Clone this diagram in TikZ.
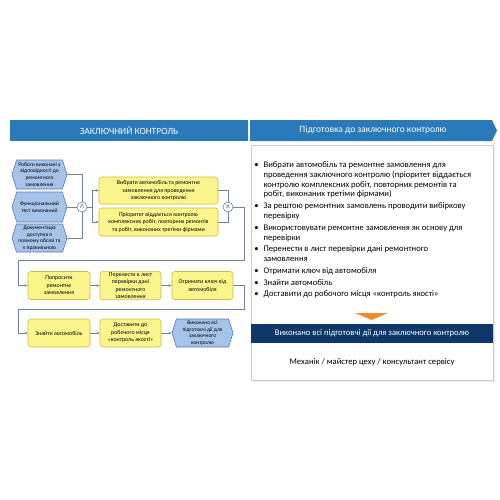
\documentclass[tikz,border=0pt]{standalone}
\usepackage{fontspec}
\setmainfont{Carlito}
\usetikzlibrary{shapes.symbols,arrows.meta}
\definecolor{hdrblue}{RGB}{42,122,186}
\definecolor{navy}{RGB}{14,56,104}
\definecolor{evfill}{RGB}{166,196,234}
\definecolor{evdraw}{RGB}{88,122,178}
\definecolor{fnfill}{RGB}{250,246,140}
\definecolor{fndraw}{RGB}{200,190,70}
\definecolor{lnclr}{RGB}{112,130,160}
\definecolor{orng}{RGB}{238,140,52}
\begin{document}
\begin{tikzpicture}[x=1pt,y=-1pt,
    line width=0.6pt,
    event node/.style={shape=signal,signal to=east and west,signal pointer angle=145,
      fill=evfill,draw=evdraw,inner sep=1pt,align=center,
      font=\fontsize{5.5}{6.8}\selectfont},
    func node/.style={rectangle,rounded corners=3pt,fill=fnfill,draw=fndraw,
      inner sep=1pt,align=center,font=\fontsize{5.9}{7.5}\selectfont},
    op node/.style={circle,draw=lnclr,fill=white,minimum size=10pt,inner sep=0pt,
      font=\fontsize{7}{7}\selectfont},
    hdr node/.style={inner sep=0pt,text=white,font=\fontsize{9.5}{11}\selectfont},
    flow/.style={draw=lnclr,-{Stealth[length=3pt,width=2.5pt]}},
    link/.style={draw=lnclr}
   ]
  \useasboundingbox (0,0) rectangle (500,500);
  \fill[white] (0,0) rectangle (500,500);

  % headers
  \node[hdr node,fill=hdrblue,minimum width=238pt,minimum height=21pt] (lhdr) at (129,130.5) {ЗАКЛЮЧНИЙ КОНТРОЛЬ};
  \fill[hdrblue] (250,120) -- (492,120) -- (497,130.5) -- (492,141) -- (250,141) -- cycle;
  \node[hdr node] (rhdr) at (373,130.5) {Підготовка до заключного контролю};

  % events
  \node[event node,minimum width=55pt,minimum height=29pt] (e1) at (39.5,174.5) {Роботи виконані у\\відповідності до\\ремонтного\\замовлення};
  \node[event node,minimum width=55pt,minimum height=30pt] (e2) at (39.5,207) {Функціональний\\тест виконаний};
  \node[event node,minimum width=55pt,minimum height=28pt] (e3) at (39.5,238) {Документація\\доступна в\\повному обсязі та\\є правильною};
  \node[op node] (and) at (82,207) {$\wedge$};
  \coordinate (s1) at (92,207);

  % functions
  \node[func node,minimum width=119pt,minimum height=27pt] (f1) at (158.5,190.5) {Вибрати автомобіль та ремонтне\\замовлення для проведення\\заключного контролю};
  \node[func node,minimum width=119pt,minimum height=28pt] (f2) at (158.5,222) {Пріоритет віддається контролю\\комплексних робіт, повторних ремонтів\\та робіт, виконаних третіми фірмами};
  \node[op node] (xor) at (228,207) {$\times$};

  \node[func node,minimum width=62pt,minimum height=28pt] (a1) at (59,285.5) {Попросити\\ремонтне\\замовлення};
  \node[func node,minimum width=61pt,minimum height=28pt] (a2) at (130.5,285.5) {Перенести в лист\\перевірки дані\\ремонтного\\замовлення};
  \node[func node,minimum width=61pt,minimum height=28pt] (a3) at (202.5,285.5) {Отримати ключ від\\автомобіля};

  \node[func node,minimum width=62pt,minimum height=28pt] (b1) at (59,333) {Знайти автомобіль};
  \node[func node,minimum width=61pt,minimum height=28pt] (b2) at (130.5,333) {Доставити до\\робочого місця\\«контроль якості»};
  \node[event node,minimum width=61pt,minimum height=28pt] (b3) at (202.5,333) {Виконано всі\\підготовчі дії для\\заключного\\контролю};

  \coordinate (r1) at (244,260);
  \coordinate (l1) at (18,285.5);
  \coordinate (r2) at (244,309);
  \coordinate (l2) at (18,333);

  % connectors
  \draw[link] (e1.east) -| (and.north);
  \draw[link] (e2.east) -- (and.west);
  \draw[link] (e3.east) -| (and.south);
  \draw[link] (and.east) -- (s1);
  \draw[flow] (s1) |- (f1.west);
  \draw[flow] (s1) |- (f2.west);
  \draw[link] (f1.east) -| (xor.north);
  \draw[link] (f2.east) -| (xor.south);
  \draw[flow] (xor.east) -| (r1) -| (l1) -- (a1.west);
  \draw[flow] (a1) -- (a2);
  \draw[flow] (a2) -- (a3);
  \draw[flow] (a3.east) -| (r2) -| (l2) -- (b1.west);
  \draw[flow] (b1) -- (b2);
  \draw[flow] (b2) -- (b3);

  % right panel
  \fill[gray!15] (252.5,146.5) rectangle (494.5,381.5);
  \draw[gray!40,fill=white] (251,145) rectangle (493,380);
  \node[anchor=north west,inner sep=0pt,font=\fontsize{8.6}{9.9}\selectfont] (list) at (254,160) {%
    \begin{tabular}{@{}l@{\hspace{5pt}}p{225pt}@{}}
    \textbullet & Вибрати автомобіль та ремонтне замовлення для\newline проведення заключного контролю (пріоритет віддається\newline контролю комплексних робіт, повторних ремонтів та\newline робіт, виконаних третіми фірмами)\\[1.8pt]
    \textbullet & За рештою ремонтних замовлень проводити вибіркову\newline перевірку\\[1.8pt]
    \textbullet & Використовувати ремонтне замовлення як основу для\newline перевірки\\[1.8pt]
    \textbullet & Перенести в лист перевірки дані ремонтного\newline замовлення\\[1.8pt]
    \textbullet & Отримати ключ від автомобіля\\[1.8pt]
    \textbullet & Знайти автомобіль\\[1.8pt]
    \textbullet & Доставити до робочого місця «контроль якості»
    \end{tabular}};
  \fill[orng] (355,313) -- (388,313) -- (371.5,320) -- cycle;
  \node[hdr node,fill=navy,minimum width=242pt,minimum height=19pt,font=\fontsize{8.6}{10}\selectfont] (done) at (372,333.5) {Виконано всі підготовчі дії для заключного контролю};
  \node[inner sep=0pt,font=\fontsize{8.6}{10}\selectfont] (roles) at (372,362) {Механік / майстер цеху / консультант сервісу};
\end{tikzpicture}
\end{document}
